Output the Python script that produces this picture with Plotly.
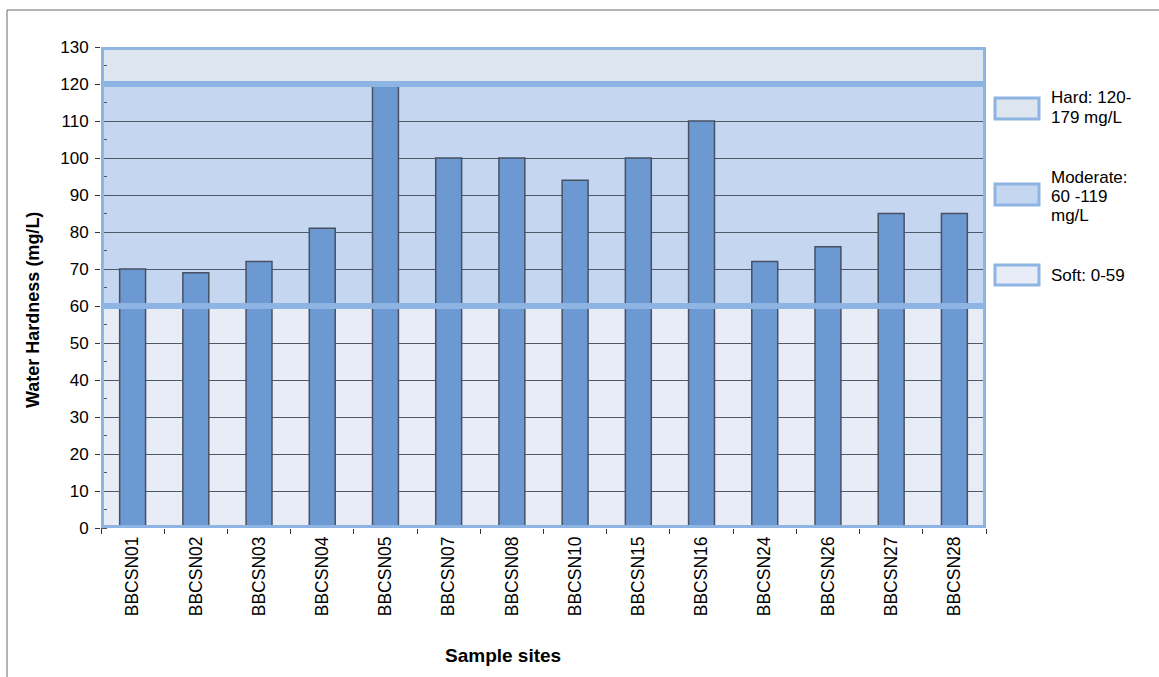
import plotly.graph_objects as go

# Water hardness measured at each sample site (mg/L)
sites = ["BBCSN01", "BBCSN02", "BBCSN03", "BBCSN04", "BBCSN05", "BBCSN07", "BBCSN08",
         "BBCSN10", "BBCSN15", "BBCSN16", "BBCSN24", "BBCSN26", "BBCSN27", "BBCSN28"]
hardness = [70, 69, 72, 81, 120, 100, 100, 94, 100, 110, 72, 76, 85, 85]

# Hardness classes drawn as background bands
band_labels = [["Hard: 120-", "179 mg/L"], ["Moderate:", "60 -119", "mg/L"], ["Soft: 0-59"]]
band_low = [120, 60, 0]
band_high = [130, 120, 60]
y_ticks = list(range(0, 131, 10))

FONT = "Liberation Sans, Arial, sans-serif"
W_FIG, H_FIG = 1159, 677
L, T, R, B = 101, 47, 173, 149
PW, PH = W_FIG - L - R, H_FIG - T - B

band_fill = ["#dde5ef", "#c5d6f1", "#e8ecf7"]
band_edge = "#8db4e2"
edge_w = 3
bar_fill = "#6d99d2"
bar_edge = "#475163"
grid_col = "#4f5868"

x_lo, x_hi = -0.5, len(sites) - 0.5
y_lo, y_hi = 0, 130


def px(x, y):
    """Pixel position on the page -> paper coordinates."""
    return (x - L) / PW, 1 - (y - T) / PH


fig = go.Figure()
fig.add_trace(go.Bar(
    x=sites, y=hardness,
    marker=dict(color=bar_fill, line=dict(color=bar_edge, width=1.5)),
    showlegend=False,
))

shapes = []
# band fills sit beneath the gridlines
for lo, hi, col in zip(band_low, band_high, band_fill):
    shapes.append(dict(type="rect", xref="x", yref="y", x0=x_lo, x1=x_hi, y0=lo, y1=hi,
                       fillcolor=col, line=dict(width=0), layer="below"))
# band outlines are drawn over the bars, just inside each band
dx = (edge_w / 2) * (x_hi - x_lo) / PW
dy = (edge_w / 2) * (y_hi - y_lo) / PH
for lo, hi in zip(band_low, band_high):
    shapes.append(dict(type="rect", xref="x", yref="y", x0=x_lo + dx, x1=x_hi - dx,
                       y0=lo + dy, y1=hi - dy, fillcolor="rgba(0,0,0,0)",
                       line=dict(color=band_edge, width=edge_w), layer="above"))

# legend swatches
swatch_y = [(98, 119), (184, 205), (265, 285)]
annotations = []
text_rows = [[97, 117], [177, 196.5, 215], [275]]
for (ya, yb), col, lines, rows in zip(swatch_y, band_fill, band_labels, text_rows):
    x0, y0 = px(995, yb)
    x1, y1 = px(1039, ya)
    shapes.append(dict(type="rect", xref="paper", yref="paper", x0=x0, x1=x1, y0=y0, y1=y1,
                       fillcolor=col, line=dict(color=band_edge, width=3)))
    for line, ry in zip(lines, rows):
        ax, ay = px(1049, ry)
        annotations.append(dict(text=line, xref="paper", yref="paper", x=ax, y=ay,
                                xanchor="left", yanchor="middle", showarrow=False,
                                font=dict(family=FONT, size=17, color="#000000")))

# chart frame
fx0, fy1 = px(7, 10)
fx1, fy0 = px(W_FIG + 10, H_FIG + 10)
shapes.append(dict(type="rect", xref="paper", yref="paper", x0=fx0, x1=fx1, y0=fy0, y1=fy1,
                   line=dict(color="#6a6a6a", width=1), fillcolor="rgba(0,0,0,0)", layer="below"))

# axis titles
tx, ty = px(33, 310)
annotations.append(dict(text="<b>Water Hardness (mg/L)</b>", xref="paper", yref="paper",
                        x=tx, y=ty, textangle=-90, showarrow=False, xanchor="center",
                        yanchor="middle", font=dict(family=FONT, size=18, color="#000000")))
sx, sy = px(503, 655)
annotations.append(dict(text="<b>Sample sites</b>", xref="paper", yref="paper",
                        x=sx, y=sy, showarrow=False, xanchor="center", yanchor="middle",
                        font=dict(family=FONT, size=19, color="#000000")))

fig.update_layout(
    width=W_FIG, height=H_FIG,
    margin=dict(l=L, r=R, t=T, b=B, pad=0),
    paper_bgcolor="#ffffff", plot_bgcolor="#ffffff",
    bargap=0.59,
    shapes=shapes,
    annotations=annotations,
    font=dict(family=FONT, size=17, color="#000000"),
    xaxis=dict(
        range=[x_lo, x_hi], tickangle=-90, tickson="boundaries",
        ticks="outside", ticklen=5, tickcolor="#333333", tickwidth=1,
        showgrid=False, showline=False, zeroline=False,
        tickfont=dict(family=FONT, size=17.5, color="#000000"),
        ticklabelstandoff=4,
    ),
    yaxis=dict(
        range=[y_lo, y_hi], tickvals=y_ticks,
        ticks="outside", ticklen=5, tickcolor="#333333", tickwidth=1,
        showgrid=True, gridcolor=grid_col, gridwidth=1,
        showline=False, zeroline=False,
        minor=dict(dtick=5, ticks="inside", ticklen=6, tickcolor="#555555", showgrid=False),
        tickfont=dict(family=FONT, size=17, color="#000000"),
        ticklabelstandoff=3,
    ),
)

fig.write_html("out.html")
